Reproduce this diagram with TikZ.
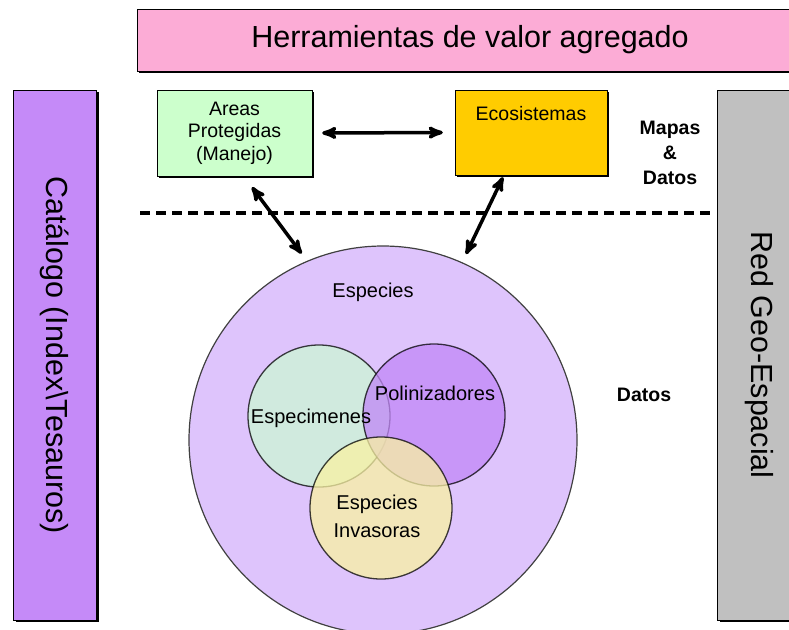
\documentclass[tikz,border=0pt]{standalone}
\usepackage{fontspec}
\setmainfont{Liberation Sans}
\usepackage{tikz}
\usetikzlibrary{arrows,shadows,positioning}
\definecolor{rosa}{RGB}{252,172,214}
\definecolor{lila}{RGB}{197,138,248}
\definecolor{gris}{RGB}{192,192,192}
\definecolor{verde}{RGB}{204,255,204}
\definecolor{oro}{RGB}{255,204,0}
\definecolor{lavanda}{RGB}{222,196,252}
\definecolor{menta}{RGB}{204,247,212}
\definecolor{morado}{RGB}{193,135,247}
\definecolor{crema}{RGB}{249,242,162}
\tikzset{
    >=stealth',
    caja/.style={
        rectangle,
        draw=black, thin,
        inner sep=0pt,
        general shadow={fill=black, shadow xshift=2pt, shadow yshift=-2pt},
        font={\fontsize{19.5pt}{22.5pt}\selectfont},
        align=center
    },
    barra/.style={
        caja,
        minimum width=83pt,
        minimum height=530pt
    },
    grande/.style={font={\fontsize{30.5pt}{36pt}\selectfont}},
    venn/.style={
        circle,
        draw=black, line width=1.3pt,
        minimum size=142pt,
        opacity=0.75
    },
    etiq/.style={font={\fontsize{20pt}{28pt}\selectfont}, align=center, inner sep=0pt},
    negrita/.style={font={\fontsize{19.5pt}{25pt}\selectfont\bfseries}, align=center, inner sep=0pt},
    flecha/.style={<->, line width=3.5pt},
    sep/.style={draw, line width=4.5pt, dash pattern=on 10pt off 6pt},
}
\begin{document}
\begin{tikzpicture}[x=1pt, y=-1pt]
    \useasboundingbox (0,0) rectangle (789,629);

    \node[caja, grande, fill=rosa, minimum width=666pt, minimum height=62pt] (herr) at (470,40) {Herramientas de valor agregado};
    \node[barra, fill=lila, label={[grande, rotate=-90]center:Cat\'alogo (Index\textbackslash Tesauros)}] (cat) at (55,355) {};
    \node[barra, fill=gris, label={[grande, rotate=-90]center:Red Geo-Espacial}] (red) at (759,355) {};

    \node[caja, fill=verde, minimum width=155pt, minimum height=86pt] (areas) at (234.5,133) {Areas\\Protegidas\\(Manejo)};
    \node[caja, fill=oro, minimum width=152pt, minimum height=85pt, text height=14pt, text depth=39pt] (ecos) at (531,132.5) {Ecosistemas};
    \node[negrita] (mapas) at (670,153) {Mapas\\\&\\Datos};
    \node[negrita] (datos) at (644,395) {Datos};

    % nivel de datos
    \node[circle, fill=lavanda, draw=black!75, line width=1.2pt, minimum size=388pt] (especies) at (383,440) {};
    \node[venn, fill=menta] (spm) at (319,416) {};
    \node[venn, fill=morado] (pol) at (434,415) {};
    \node[venn, fill=crema] (inv) at (381,508) {};
    \node[etiq] (txtesp) at (373,292) {Especies};
    \node[etiq] (txtspm) at (311,418) {Especimenes};
    \node[etiq] (txtpol) at (435,393) {Polinizadores};
    \node[etiq] (txtinv) at (377,516) {Especies\\Invasoras};

    \coordinate (sepizq) at (140,213);
    \coordinate (sepder) at (712,213);
    \draw[sep] (sepizq) -- (sepder);

    \draw[flecha, shorten <=10pt, shorten >=12pt] (areas.east) -- (ecos.west);
    \draw[flecha, shorten >=9pt] ([xshift=17.5pt, yshift=-11pt]areas.south) -- (especies.113);
    \draw[flecha, shorten >=9pt] ([xshift=-28pt, yshift=-2pt]ecos.south) -- (especies.66);
\end{tikzpicture}
\end{document}
